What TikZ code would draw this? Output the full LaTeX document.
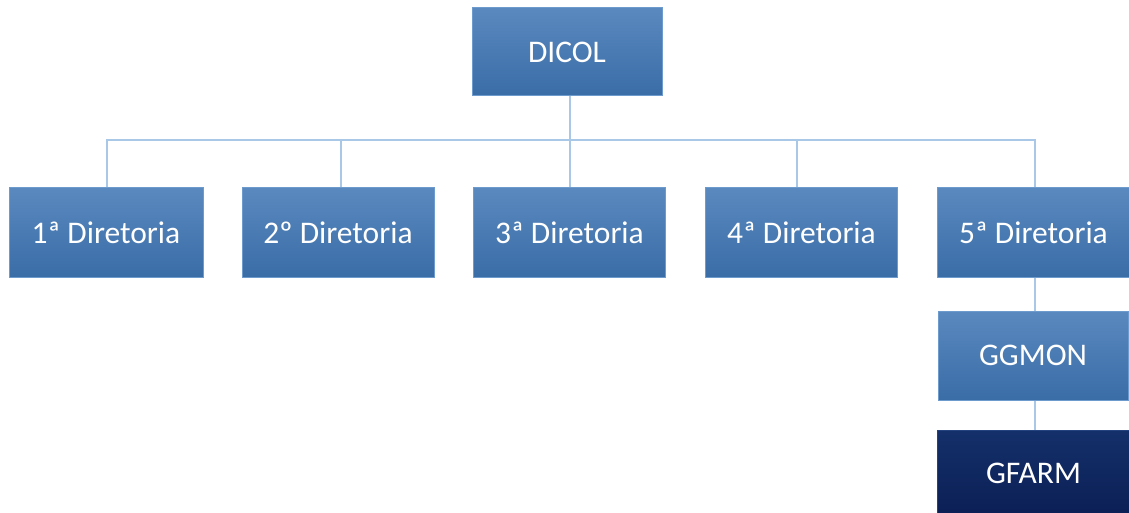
\documentclass[tikz,border=0pt]{standalone}
\usepackage{fontspec}
\setmainfont{Carlito}
\begin{document}
\begin{tikzpicture}[x=1pt,y=-1pt,
  box/.style={draw=boxedge,line width=1pt,top color=boxtop,bottom color=boxbot,
    minimum width=192pt,minimum height=89pt,inner sep=0pt,text=white,font=\fontsize{31.5}{36}\selectfont},
  darkbox/.style={box,top color=darktop,bottom color=darkbot,draw=darkedge},
  conn/.style={draw=linecol,line width=1.6pt}]
\definecolor{boxtop}{HTML}{5A89BF}
\definecolor{boxbot}{HTML}{3A6CA6}
\definecolor{boxedge}{HTML}{6E9BCD}
\definecolor{darktop}{HTML}{14306A}
\definecolor{darkbot}{HTML}{0B1F55}
\definecolor{darkedge}{HTML}{24427D}
\definecolor{linecol}{HTML}{A9C8E8}
\useasboundingbox[fill=white] (0,0) rectangle (1129,513);
\node[box,minimum width=190pt,minimum height=88pt] (dicol) at (567,52) {DICOL};
\node[box,minimum width=194pt] (d1) at (106,232.5) {1ª Diretoria};
\node[box] (d2) at (338,232.5) {2º Diretoria};
\node[box] (d3) at (569.5,232.5) {3ª Diretoria};
\node[box] (d4) at (801.5,232.5) {4ª Diretoria};
\node[box] (d5) at (1033.5,232.5) {5ª Diretoria};
\node[box,minimum width=190pt] (ggmon) at (1033,355.5) {GGMON};
\node[darkbox,minimum height=86pt] (gfarm) at (1033.5,473) {GFARM};
\coordinate (bus) at (570,140);
\draw[conn] (dicol.south -| bus) -- (bus);
\draw[conn] (d1.north -| 107,0) |- (bus) -| (d5.north -| 1035,0);
\draw[conn] (d2.north -| 341,0) -- (341,140);
\draw[conn] (d3.north -| bus) -- (bus);
\draw[conn] (d4.north -| 797,0) -- (797,140);
\draw[conn] (d5.south -| 1035,0) -- (ggmon.north -| 1035,0);
\draw[conn] (ggmon.south -| 1035,0) -- (gfarm.north -| 1035,0);
\end{tikzpicture}
\end{document}
